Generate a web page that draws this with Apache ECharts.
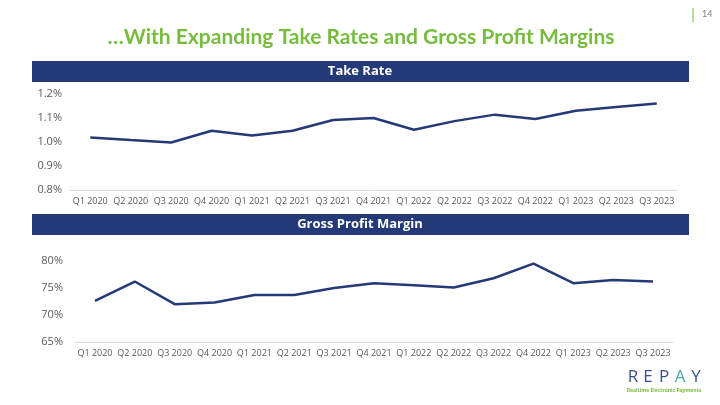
<!DOCTYPE html>
<html><head><meta charset="utf-8">
<script src="https://cdn.jsdelivr.net/npm/echarts@6/dist/echarts.min.js"></script>
<style>html,body{margin:0;padding:0;background:#fff}#c{width:720px;height:405px}</style>
</head><body><div id="c"></div>
<script>
var categories = ['Q1 2020','Q2 2020','Q3 2020','Q4 2020','Q1 2021','Q2 2021','Q3 2021','Q4 2021','Q1 2022','Q2 2022','Q3 2022','Q4 2022','Q1 2023','Q2 2023','Q3 2023'];
var takeRate = [1.019,1.008,0.998,1.047,1.027,1.047,1.092,1.100,1.051,1.087,1.114,1.096,1.130,1.146,1.160];
var grossMargin = [72.6,76.2,72.0,72.3,73.7,73.7,75.0,75.9,75.5,75.1,76.8,79.5,75.9,76.5,76.2];
var titleText = '\u2026With Expanding Take Rates and Gross Profit Margins';
var panelTitles = ['Take Rate','Gross Profit Margin'];

var navy = '#243a78';
var green = '#77bc3f';
var chart = echarts.init(document.getElementById('c'));
var axLabel = {color:'#595959', fontFamily:'Open Sans', fontSize:11};
function letter(ch, x, col){
  return {type:'text', x:x, y:377, style:{text:ch, fill:col, font:'17px "Open Sans"', align:'center', verticalAlign:'middle'}};
}
chart.setOption({
  animation:false,
  backgroundColor:'#fff',
  graphic:[
    {type:'text', x:361, y:37, style:{text:titleText, fill:green, font:'bold 21px Lato', align:'center', verticalAlign:'middle'}},
    {type:'line', shape:{x1:693,y1:8,x2:693,y2:22}, style:{stroke:green, lineWidth:1}},
    {type:'text', x:702, y:10, style:{text:'14', fill:'#7f7f7f', font:'9px Lato'}},
    {type:'rect', shape:{x:32,y:61,width:657,height:21}, style:{fill:navy}},
    {type:'text', x:360, y:71.5, style:{text:panelTitles[0], fill:'#fff', font:'bold 13px "Open Sans"', align:'center', verticalAlign:'middle'}},
    {type:'rect', shape:{x:32,y:214,width:657,height:21}, style:{fill:navy}},
    {type:'text', x:360, y:224.5, style:{text:panelTitles[1], fill:'#fff', font:'bold 13px "Open Sans"', align:'center', verticalAlign:'middle'}},
    letter('R', 633, '#3b4f86'), letter('E', 648, '#3b4f86'), letter('P', 664, '#3b4f86'),
    letter('A', 680, '#4aa6a0'), letter('Y', 696, '#3b4f86'),
    {type:'text', x:664, y:391, style:{text:'Realtime Electronic Payments', fill:green, font:'bold 5px "Open Sans"', align:'center', verticalAlign:'middle'}}
  ],
  grid:[
    {left:70, right:43, top:94, height:96},
    {left:75, right:47, top:261, height:81}
  ],
  xAxis:[
    {type:'category', gridIndex:0, data:categories, boundaryGap:true,
     axisLine:{lineStyle:{color:'#d9d9d9', width:1}}, axisTick:{show:false},
     axisLabel:{interval:0, margin:7, fontSize:9, color:'#595959', fontFamily:'Open Sans'}},
    {type:'category', gridIndex:1, data:categories, boundaryGap:true,
     axisLine:{lineStyle:{color:'#d9d9d9', width:1}}, axisTick:{show:false},
     axisLabel:{interval:0, margin:7, fontSize:9, color:'#595959', fontFamily:'Open Sans'}}
  ],
  yAxis:[
    {type:'value', gridIndex:0, min:0.8, max:1.2, interval:0.1, splitLine:{show:false},
     axisLine:{show:false}, axisTick:{show:false},
     axisLabel:Object.assign({margin:8, formatter:function(v){return v.toFixed(1)+'%';}}, axLabel)},
    {type:'value', gridIndex:1, min:65, max:80, interval:5, splitLine:{show:false},
     axisLine:{show:false}, axisTick:{show:false},
     axisLabel:Object.assign({margin:12, formatter:function(v){return v+'%';}}, axLabel)}
  ],
  series:[
    {type:'line', xAxisIndex:0, yAxisIndex:0, data:takeRate, symbol:'none', lineStyle:{color:navy, width:2.5}},
    {type:'line', xAxisIndex:1, yAxisIndex:1, data:grossMargin, symbol:'none', lineStyle:{color:navy, width:2.5}}
  ]
});
</script></body></html>
